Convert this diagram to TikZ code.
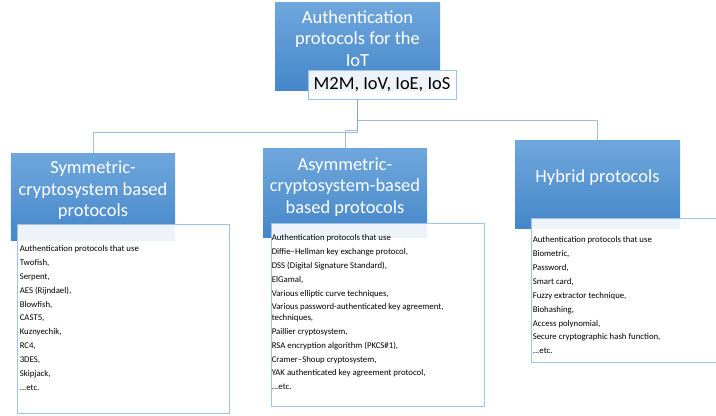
\documentclass[tikz,border=0pt]{standalone}
\usepackage{fontspec}
\setmainfont{Carlito}
\usetikzlibrary{calc}
\usetikzlibrary{positioning}

\definecolor{headtop}{HTML}{6FA7DC}
\definecolor{headbottom}{HTML}{4587CA}
\definecolor{linkblue}{HTML}{7FA4C8}
\definecolor{listborder}{HTML}{9DC3E6}

\tikzset{elbow/.style={to path={-- ++(0,#1) -| (\tikztotarget)}}}

\begin{document}
\begin{tikzpicture}[x=1bp, y=-1bp]
            \path[use as bounding box, clip] (0,0) rectangle (716,415);

            % heading boxes
            \begin{scope}[every node/.style={rectangle, top color=headtop, bottom color=headbottom, inner sep=0}]
                \node[minimum width=165bp, minimum height=88bp] (iot) at (357.5,46) {};
                \node[minimum width=164bp, minimum height=87bp] (sym) at (93,196.5) {};
                \node[minimum width=164bp, minimum height=88.5bp] (asym) at (345,193) {};
                \node[minimum width=165bp, minimum height=88bp] (hyb) at (597.5,184) {};
            \end{scope}

            \begin{scope}[every node/.style={text=white, align=center, inner sep=0, font=\fontsize{18.5}{21.7}\selectfont}]
                \node (iothead) at ([yshift=7.5bp]iot.center) {Authentication\\protocols for the\\IoT};
                \node (symhead) at ([yshift=6bp]sym.center) {Symmetric-\\cryptosystem based\\protocols};
                \node (asymhead) at ([yshift=6bp]asym.center) {Asymmetric-\\cryptosystem-based\\based protocols};
                \node (hybhead) at ([yshift=6bp]hyb.center) {Hybrid protocols};
            \end{scope}

            \node[draw=listborder, line width=0.8bp, fill=white, fill opacity=0.9, text opacity=1,
                  minimum width=148bp, minimum height=29bp, inner sep=0,
                  font=\fontsize{18.5}{21.7}\selectfont] (m2m) at (382,84.5) {M2M, IoV, IoE, IoS};

            \coordinate (hub) at (iot.south |- m2m.south);

            \begin{scope}[every edge/.style={draw=linkblue, draw opacity=0.75, line width=0.8bp}]
                \path [-] (hub) edge[elbow=21] (hyb.north);
                \path [-] (hub) edge[elbow=30.5] (asym.north);
                \path [-] (hub) edge[elbow=33] (sym.north);
            \end{scope}

            % list boxes
            \begin{scope}[every node/.style={draw=listborder, line width=0.8bp, fill=white, fill opacity=0.9, inner sep=0}]
                \node[minimum width=212bp, minimum height=189bp] (symlist) at (123,318.5) {};
                \node[minimum width=213bp, minimum height=183bp] (asymlist) at (377.5,314.5) {};
                \node[minimum width=212bp, minimum height=144bp] (hyblist) at (637,290) {};
            \end{scope}

            \begin{scope}[every node/.style={anchor=north west, align=left, inner sep=0, font=\fontsize{8.8}{13.9}\selectfont}]
                \node (symtext) at ([shift={(3,21.8)}]symlist.north west) {Authentication protocols that use\\Twofish,\\Serpent,\\AES (Rijndael),\\Blowfish,\\CAST5,\\Kuznyechik,\\RC4,\\3DES,\\Skipjack,\\...etc.};
                \node (asymtext) at ([shift={(1,11.8)}]asymlist.north west) {Authentication protocols that use\\Diffie–Hellman key exchange protocol,\\DSS (Digital Signature Standard),\\ElGamal,\\Various elliptic curve techniques,\\Various password-authenticated key agreement,\\[-3.2bp]techniques,\\Paillier cryptosystem,\\RSA encryption algorithm (PKCS\#1),\\Cramer–Shoup cryptosystem,\\YAK authenticated key agreement protocol,\\...etc.};
                \node (hybtext) at ([shift={(2,19.1)}]hyblist.north west) {Authentication protocols that use\\Biometric,\\Password,\\Smart card,\\Fuzzy extractor technique,\\Biohashing,\\Access polynomial,\\Secure cryptographic hash function,\\...etc.};
            \end{scope}
        \end{tikzpicture}
\end{document}
